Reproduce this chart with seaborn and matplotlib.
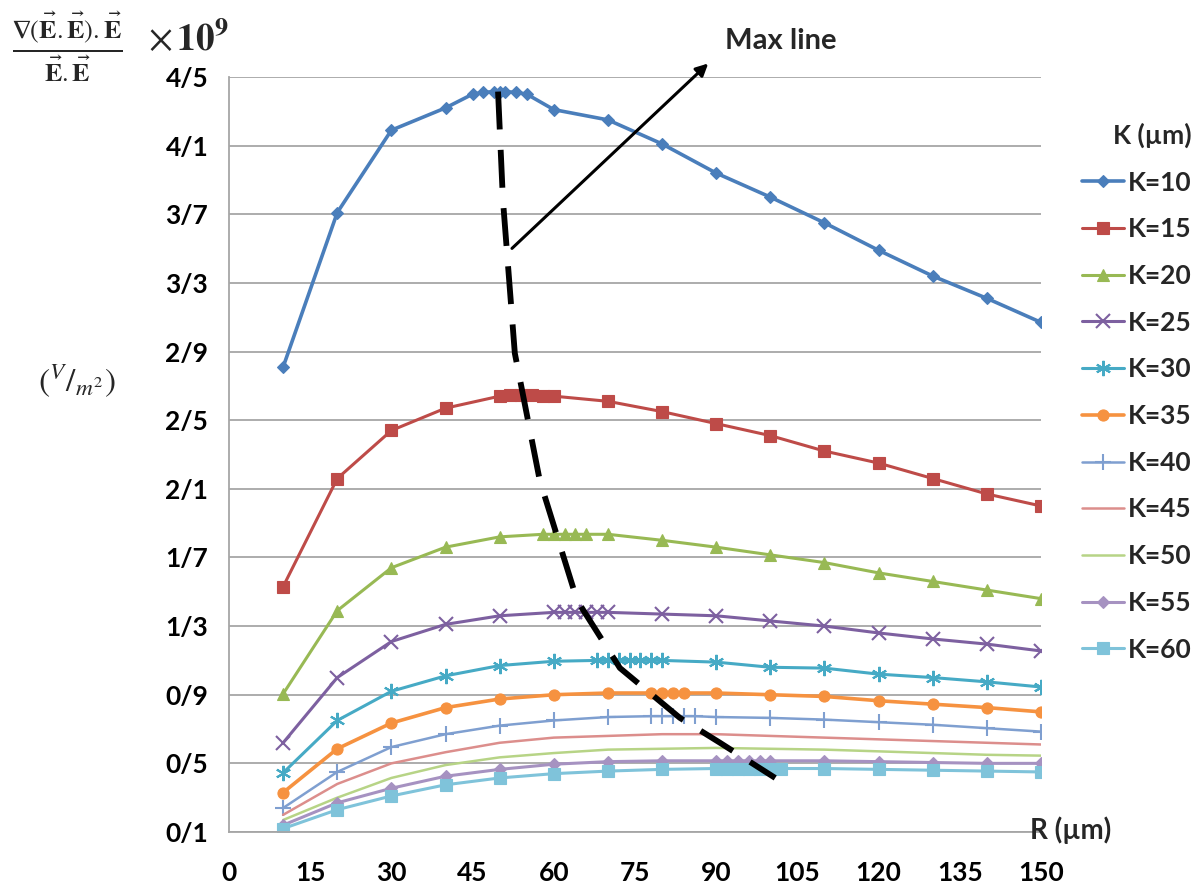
import numpy as np
import pandas as pd
import matplotlib
matplotlib.use("Agg")
import matplotlib.pyplot as plt
import seaborn as sns

# valeurs
r_ticks = [0, 15, 30, 45, 60, 75, 90, 105, 120, 135, 150]
y_ticks = [0.1, 0.5, 0.9, 1.3, 1.7, 2.1, 2.5, 2.9, 3.3, 3.7, 4.1, 4.5]
y_tick_labels = ["0/1", "0/5", "0/9", "1/3", "1/7", "2/1", "2/5", "2/9", "3/3", "3/7", "4/1", "4/5"]

x10 = [10, 20, 30, 40, 45, 47, 49, 50, 51, 53, 55, 60, 70, 80, 90, 100, 110, 120, 130, 140, 150]
y10 = [2.81, 3.71, 4.19, 4.32, 4.40, 4.41, 4.415, 4.415, 4.415, 4.41, 4.40, 4.31, 4.25, 4.11, 3.94,
       3.80, 3.65, 3.49, 3.34, 3.21, 3.07]

x15 = [10, 20, 30, 40, 50, 52, 54, 56, 58, 60, 70, 80, 90, 100, 110, 120, 130, 140, 150]
y15 = [1.53, 2.16, 2.44, 2.57, 2.64, 2.645, 2.645, 2.645, 2.64, 2.64, 2.61, 2.55, 2.48, 2.41, 2.32,
       2.25, 2.16, 2.07, 2.0]

x20 = [10, 20, 30, 40, 50, 58, 60, 62, 64, 66, 70, 80, 90, 100, 110, 120, 130, 140, 150]
y20 = [0.905, 1.39, 1.64, 1.76, 1.82, 1.835, 1.835, 1.835, 1.835, 1.835, 1.835, 1.80, 1.76, 1.715,
       1.67, 1.61, 1.56, 1.51, 1.46]

x25 = [10, 20, 30, 40, 50, 60, 62, 64, 66, 68, 70, 80, 90, 100, 110, 120, 130, 140, 150]
y25 = [0.62, 1.0, 1.21, 1.31, 1.36, 1.38, 1.38, 1.38, 1.38, 1.38, 1.38, 1.37, 1.36, 1.33, 1.30,
       1.26, 1.225, 1.195, 1.155]

x30 = [10, 20, 30, 40, 50, 60, 68, 70, 72, 74, 76, 78, 80, 90, 100, 110, 120, 130, 140, 150]
y30 = [0.445, 0.75, 0.92, 1.01, 1.07, 1.095, 1.10, 1.10, 1.10, 1.10, 1.10, 1.10, 1.10, 1.09, 1.06,
       1.055, 1.02, 1.0, 0.975, 0.945]

x35 = [10, 20, 30, 40, 50, 60, 70, 78, 80, 82, 84, 90, 100, 110, 120, 130, 140, 150]
y35 = [0.33, 0.585, 0.735, 0.825, 0.875, 0.90, 0.91, 0.91, 0.91, 0.91, 0.91, 0.91, 0.90, 0.89,
       0.865, 0.845, 0.825, 0.80]

x40 = [10, 20, 30, 40, 50, 60, 70, 78, 80, 82, 84, 86, 90, 100, 110, 120, 130, 140, 150]
y40 = [0.24, 0.45, 0.595, 0.67, 0.72, 0.75, 0.77, 0.775, 0.775, 0.775, 0.775, 0.775, 0.77, 0.765,
       0.755, 0.74, 0.725, 0.705, 0.685]

x45 = [10, 20, 30, 40, 50, 60, 70, 80, 90, 100, 110, 120, 130, 140, 150]
y45 = [0.20, 0.38, 0.50, 0.565, 0.62, 0.65, 0.66, 0.67, 0.67, 0.66, 0.65, 0.64, 0.63, 0.62, 0.61]

x50 = [10, 20, 30, 40, 50, 60, 70, 80, 90, 100, 110, 120, 130, 140, 150]
y50 = [0.17, 0.30, 0.415, 0.49, 0.535, 0.56, 0.58, 0.585, 0.59, 0.585, 0.58, 0.57, 0.56, 0.55, 0.545]

x55 = [10, 20, 30, 40, 50, 60, 70, 80, 90, 92, 94, 96, 98, 100, 110, 120, 130, 140, 150]
y55 = [0.14, 0.27, 0.355, 0.425, 0.465, 0.495, 0.51, 0.515, 0.515, 0.515, 0.515, 0.515, 0.515,
       0.515, 0.515, 0.51, 0.505, 0.50, 0.50]

x60 = [10, 20, 30, 40, 50, 60, 70, 80, 90, 92, 94, 96, 98, 100, 102, 110, 120, 130, 140, 150]
y60 = [0.12, 0.23, 0.31, 0.375, 0.415, 0.44, 0.455, 0.465, 0.47, 0.47, 0.47, 0.47, 0.47, 0.47,
       0.47, 0.47, 0.465, 0.46, 0.455, 0.45]

# ligne des maxima
max_x = [49.7, 50.6, 52.8, 57.4, 64.3, 72.2, 83.3, 90.7, 100.9]
max_y = [4.415, 3.785, 2.89, 2.15, 1.45, 1.056, 0.765, 0.62, 0.415]

labels = ["K=10", "K=15", "K=20", "K=25", "K=30", "K=35", "K=40", "K=45", "K=50", "K=55", "K=60"]
series_x = [x10, x15, x20, x25, x30, x35, x40, x45, x50, x55, x60]
series_y = [y10, y15, y20, y25, y30, y35, y40, y45, y50, y55, y60]

colors = ["#4A7EBB", "#BE4B48", "#98B954", "#7D60A0", "#46AAC5", "#F69240",
          "#7F9FD0", "#DC8E8C", "#B7D486", "#A692C1", "#7FC3DA"]
markers = ["D", "s", "^", "x", (6, 2, 0), "o", "+", None, None, "D", "s"]
msizes = [6, 8, 8, 10, 11, 8, 11, 0, 0, 6, 8]
lwidths = [2.6, 2.2, 2.2, 2.2, 2.2, 2.6, 1.8, 1.8, 1.8, 2.2, 2.2]

sns.set_style("white")
plt.rcParams['font.family'] = ['Lato', 'DejaVu Sans']
plt.rcParams['mathtext.fontset'] = 'stix'

fig = plt.figure(figsize=(12.03, 8.91), dpi=100)
ax = fig.add_axes([229 / 1203, 1 - 832 / 891, (1041 - 229) / 1203, (832 - 77) / 891])

for lab, xs, ys, c, m, ms, lw in zip(labels, series_x, series_y, colors, markers, msizes, lwidths):
    df = pd.DataFrame({"R": xs, "val": ys})
    kw = dict(color=c, linewidth=lw, label=lab, ax=ax)
    if m is not None:
        kw.update(marker=m, markersize=ms, markeredgecolor=c, markerfacecolor=c,
                  markeredgewidth=1.5 if m in ("x", "+", (6, 2, 0)) else 0.8)
    sns.lineplot(data=df, x="R", y="val", **kw)

ax.plot(max_x, max_y, color="black", linewidth=4.2, linestyle=(0, (6.5, 3.5)), zorder=5)

ax.annotate("", xy=(88.9, 4.59), xytext=(51.9, 3.49),
            arrowprops=dict(arrowstyle="-|>", color="black", lw=2.2, mutation_scale=18),
            annotation_clip=False, zorder=6)
ax.text(102, 4.71, "Max line", fontsize=21, fontweight="bold", ha="center", va="center")

ax.set_xlim(0, 150)
ax.set_ylim(0.1, 4.5)
ax.set_xticks(r_ticks)
ax.set_yticks(y_ticks)
ax.set_yticklabels(y_tick_labels)
ax.set_xlabel("")
ax.set_ylabel("")
ax.grid(axis="y", color="#A6A6A6", linewidth=1.3)
ax.grid(axis="x", visible=False)
for s in ["top", "right"]:
    ax.spines[s].set_visible(False)
ax.spines["left"].set_color("#A6A6A6")
ax.spines["bottom"].set_color("#A6A6A6")
ax.spines["left"].set_linewidth(1.3)
ax.spines["bottom"].set_linewidth(1.3)
ax.tick_params(axis="both", direction="out", colors="#A6A6A6", length=9, width=1.3,
               labelcolor="black", labelsize=19)
ax.tick_params(axis="x", pad=12)
ax.tick_params(axis="y", pad=6)
for t in ax.get_xticklabels() + ax.get_yticklabels():
    t.set_fontweight("bold")

leg = ax.legend(loc="upper left", bbox_to_anchor=(1071 / 1203, 1 - 112 / 891),
                bbox_transform=fig.transFigure, frameon=False, title="K (µm)",
                prop=dict(size=19, weight="bold"), title_fontproperties=dict(size=19, weight="bold"),
                handlelength=1.6, handletextpad=0.15, labelspacing=0.86, borderaxespad=0)
leg._legend_box.align = "right"

fig.text(0.056, 0.948,
         r"$\frac{\mathbf{\nabla}(\vec{\mathbf{E}}.\vec{\mathbf{E}}).\vec{\mathbf{E}}}{\vec{\mathbf{E}}.\vec{\mathbf{E}}}$",
         fontsize=27, ha="center", va="center")
fig.text(0.123, 0.956, r"$\times\,\mathbf{10^9}$", fontsize=27, ha="left", va="center")
fig.text(0.064, 0.573, r"$(^{V}/_{m^2})$", fontsize=24, ha="center", va="center")
fig.text(0.856, 0.068, "R (µm)", fontsize=20, fontweight="bold", ha="left", va="center")

fig.savefig("out.png", dpi=100)
